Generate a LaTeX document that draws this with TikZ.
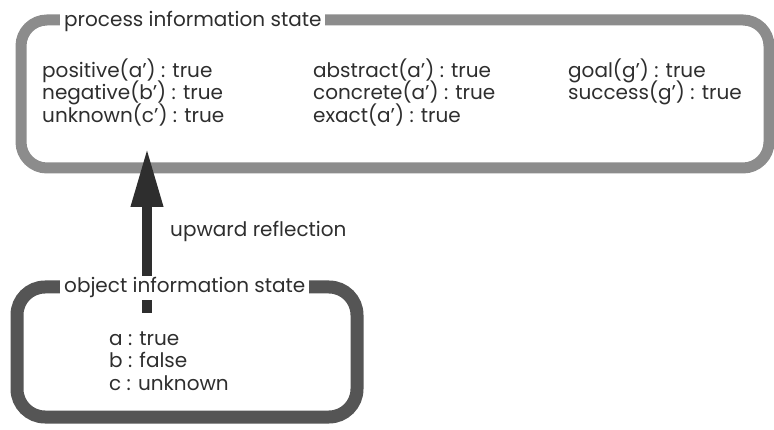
\documentclass[tikz,border=0pt]{standalone}
\usepackage{fontspec}
\setmainfont{Poppins}
\usetikzlibrary{arrows.meta}

\definecolor{bandgray}{HTML}{8C8C8C}
\definecolor{darkband}{HTML}{555555}
\definecolor{ink}{HTML}{2E2E2E}

\begin{document}
\begin{tikzpicture}[x=1pt, y=-1pt,
	frame/.style={rectangle, draw, inner sep=0pt},
	title/.style={anchor=base west, fill=white, inner xsep=4pt, inner ysep=2pt, text=ink, font=\fontsize{20}{22}\selectfont},
	entry/.style={anchor=base west, inner sep=0pt, text=ink, font=\fontsize{20}{22}\selectfont}]
		\useasboundingbox (0,0) rectangle (774,430);
		\node(PROC) at (395,94)[frame, draw=bandgray, line width=11pt, rounded corners=26pt, minimum width=748pt, minimum height=148pt]{};
		\node(OBJ) at (187,352)[frame, draw=darkband, line width=13pt, rounded corners=28pt, minimum width=340pt, minimum height=130pt]{};
		\coordinate(FOOT) at (147,313);
		\coordinate(TIP) at (147,148);
		\draw[line width=10pt, draw=ink, -{Triangle[width=30pt,length=59pt]}] (FOOT)--(TIP);
		\node(PTITLE) at (60,26.5)[title]{process information state};
		\node(OTITLE) at (60,293)[title]{object information state};
		\node(POS) at (42,77.7)[entry]{positive(a') : true};
		\node(NEG) at (42,100)[entry]{negative(b') : true};
		\node(UNK) at (42,122.3)[entry]{unknown(c') : true};
		\node(ABS) at (313,77.7)[entry]{abstract(a') : true};
		\node(CON) at (313,100)[entry]{concrete(a') : true};
		\node(EXA) at (313,122.3)[entry]{exact(a') : true};
		\node(GOAL) at (568,77.7)[entry]{goal(g') : true};
		\node(SUCC) at (568,100)[entry]{success(g') : true};
		\node(REFL) at (170,236.5)[entry]{upward reflection};
		\node(VA) at (109,345)[entry]{a : true};
		\node(VB) at (109,367)[entry]{b : false};
		\node(VC) at (109,390)[entry]{c : unknown};
\end{tikzpicture}
\end{document}
